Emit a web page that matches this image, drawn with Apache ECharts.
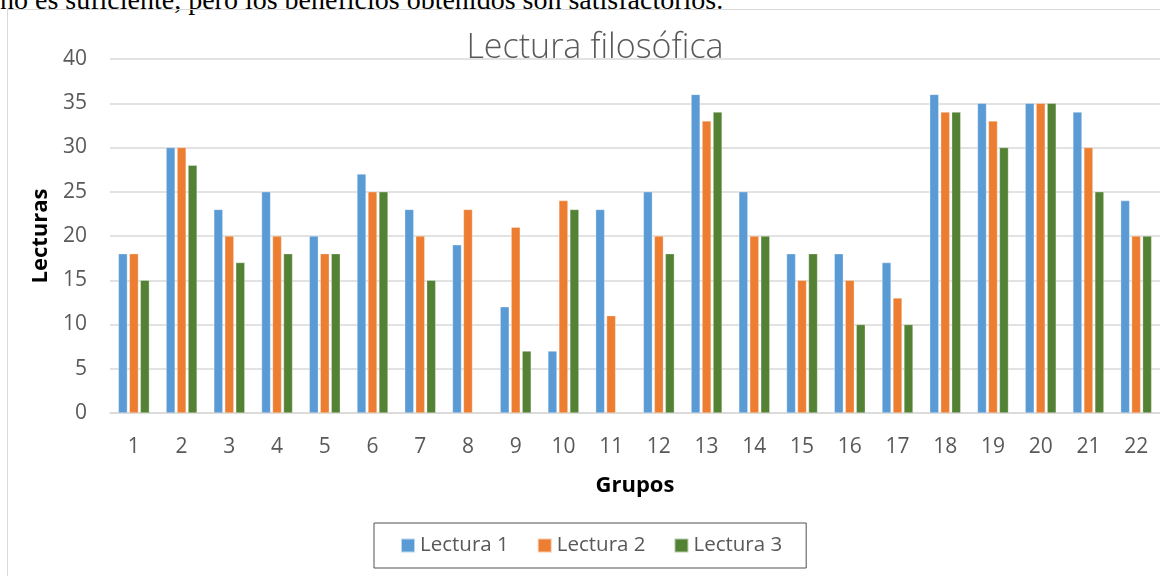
<!DOCTYPE html>
<html><head><meta charset="utf-8">
<script src="https://cdn.jsdelivr.net/npm/echarts@6/dist/echarts.min.js"></script>
<style>
html,body{margin:0;padding:0;background:#fff;overflow:hidden;}
#top{position:absolute;left:0;top:-14px;font-family:"Liberation Serif",serif;font-size:28px;line-height:28px;color:#000;white-space:nowrap;}
#frame{position:absolute;left:7px;top:9px;width:1200px;height:600px;border:1px solid #d9d9d9;}
#c{position:absolute;left:0;top:0;width:1160px;height:576px;}
</style></head>
<body>
<div id="top">no es suficiente, pero los beneficios obtenidos son satisfactorios.</div>
<div id="frame"></div>
<div id="c"></div>
<script>
const categories = ['1','2','3','4','5','6','7','8','9','10','11','12','13','14','15','16','17','18','19','20','21','22'];
const lectura1 = [18,30,23,25,20,27,23,19,12,7,23,25,36,25,18,18,17,36,35,35,34,24];
const lectura2 = [18,30,20,20,18,25,20,23,21,24,11,20,33,20,15,15,13,34,33,35,30,20];
const lectura3 = [15,28,17,18,18,25,15,null,7,23,null,18,34,20,18,10,10,34,30,35,25,20];
const yTicks = [0,5,10,15,20,25,30,35,40];

const chart = echarts.init(document.getElementById('c'), null, {renderer:'canvas'});
const txt = '#595959';
const mk = (name, data, color) => ({
  name, type:'bar', data, barWidth:9, barGap:'22%',
  itemStyle:{color, borderColor:'rgba(255,255,255,0.6)', borderWidth:0.5},
  emphasis:{disabled:true}
});
chart.setOption({
  animation:false,
  backgroundColor:'transparent',
  title:{text:'Lectura filosófica', left:590, textAlign:'center', top:26,
    textStyle:{fontFamily:'Open Sans', fontWeight:300, fontSize:34, color:txt}},
  grid:{left:110, top:59, width:1058, height:354, containLabel:false},
  legend:{left:374, top:523, padding:[12,24,12,26], itemGap:28,
    borderColor:'#505050', borderWidth:1, itemWidth:14, itemHeight:14, icon:'rect',
    textStyle:{fontFamily:'Open Sans', fontSize:20.5, color:txt},
    data:['Lectura 1','Lectura 2','Lectura 3']},
  xAxis:{type:'category', data:categories, name:'Grupos', nameLocation:'middle', nameGap:62,
    nameTextStyle:{fontFamily:'Open Sans', fontWeight:'bold', fontSize:22, color:'#000'},
    axisLine:{lineStyle:{color:'#d9d9d9', width:1.5}}, axisTick:{show:false},
    axisLabel:{fontFamily:'Open Sans', fontSize:21, color:txt, margin:24, interval:0}},
  yAxis:{type:'value', min:0, max:40, interval:5, name:'Lecturas', nameLocation:'middle', nameGap:57,
    nameRotate:90,
    nameTextStyle:{fontFamily:'Open Sans', fontWeight:'bold', fontSize:22, color:'#000'},
    axisLine:{show:false}, axisTick:{show:false},
    splitLine:{lineStyle:{color:'#d9d9d9', width:1.5}},
    axisLabel:{fontFamily:'Open Sans', fontSize:21, color:txt, margin:23,
      formatter:v => yTicks.includes(v) ? String(v) : ''}},
  series:[mk('Lectura 1', lectura1, '#5B9BD5'), mk('Lectura 2', lectura2, '#ED7D31'), mk('Lectura 3', lectura3, '#548235')]
});
</script>
</body></html>
